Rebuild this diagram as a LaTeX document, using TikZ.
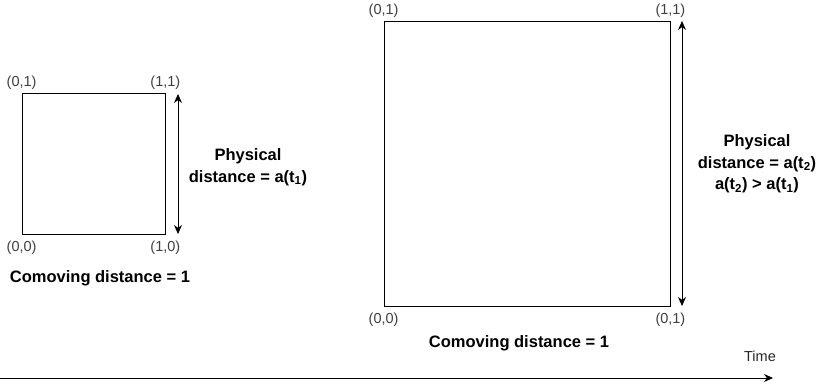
\documentclass[tikz,border=0pt]{standalone}
\usepackage{fontspec}
\setmainfont{Liberation Sans}
\usetikzlibrary{arrows.meta,positioning}

\begin{document}
\begin{tikzpicture}[x=1pt, y=-1pt,
      every node/.style={inner sep=0pt},
      sq/.style={draw, thick, fill=white},
      lbl/.style={font=\fontsize{14.5}{17}\selectfont, text=black!75},
      txt/.style={font=\fontsize{16.5}{21.5}\selectfont\bfseries, align=center},
      arrow/.style={-{Stealth[length=9pt, width=8pt]}, thick},
      dblarrow/.style={{Stealth[length=9pt, width=8pt]}-{Stealth[length=9pt, width=8pt]}, thick}
    ]
    \useasboundingbox (0,0) rectangle (822,385);

    % earlier time
    \node[sq, minimum width=143pt, minimum height=141pt] (sqa) at (93.5,163.5) {};
    \node[lbl, above=3pt of sqa.north west] (a01) {(0,1)};
    \node[lbl, above=3pt of sqa.north east] (a11) {(1,1)};
    \node[lbl, below=6pt of sqa.south west] (a00) {(0,0)};
    \node[lbl, below=6pt of sqa.south east] (a10) {(1,0)};
    \node[txt] (coma) at (100,278) {Comoving distance = 1};
    \node[txt] (phya) at (248,167) {Physical\\distance = a(t\textsubscript{1})};
    \coordinate (pa1) at (178,94);
    \coordinate (pa2) at (178,234);
    \draw[dblarrow] (pa1) -- (pa2);

    % later time
    \node[sq, minimum width=286pt, minimum height=285pt] (sqb) at (527,163.5) {};
    \node[lbl, above=3pt of sqb.north west] (b01) {(0,1)};
    \node[lbl, above=3pt of sqb.north east] (b11) {(1,1)};
    \node[lbl, below=6pt of sqb.south west] (b00) {(0,0)};
    \node[lbl, below=6pt of sqb.south east] (b10) {(0,1)};
    \node[txt] (comb) at (519,343) {Comoving distance = 1};
    \node[txt] (phyb) at (757,164) {Physical\\distance = a(t\textsubscript{2})\\a(t\textsubscript{2}) > a(t\textsubscript{1})};
    \coordinate (pb1) at (682,21);
    \coordinate (pb2) at (682,306);
    \draw[dblarrow] (pb1) -- (pb2);

    % time axis
    \coordinate (t0) at (0,378);
    \coordinate (t1) at (773,378);
    \draw[arrow] (t0) -- (t1);
    \node[lbl, text=black!85] (time) at (760,356) {Time};
\end{tikzpicture}
\end{document}
